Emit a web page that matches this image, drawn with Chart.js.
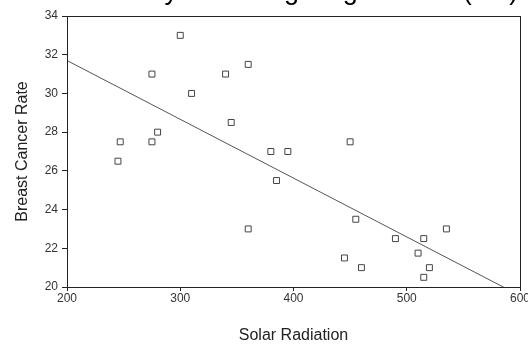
<!DOCTYPE html>
<html>
<head>
<meta charset="utf-8">
<script src="https://cdn.jsdelivr.net/npm/chart.js@4/dist/chart.umd.min.js"></script>
<style>
  html, body { margin: 0; padding: 0; background: #fff; }
  #wrap { width: 528px; height: 344px; }
</style>
</head>
<body>
<div id="wrap"><canvas id="c" width="528" height="344"></canvas></div>
<script>
// solar radiation vs breast cancer rate, one point per region
var radiation = [300, 275, 340, 360, 310, 345, 280, 275, 247, 245, 380, 395, 385, 450,
                 360, 455, 490, 515, 535, 510, 445, 460, 520, 515];
var cancerRate = [33, 31, 31, 31.5, 30, 28.5, 28, 27.5, 27.5, 26.5, 27, 27, 25.5, 27.5,
                  23, 23.5, 22.5, 22.5, 23, 21.75, 21.5, 21, 21, 20.5];

// fitted line end points
var fitX = [200, 600];
var fitY = [31.7, 19.55];

var xTicks = [200, 300, 400, 500, 600];
var yTicks = [20, 22, 24, 26, 28, 30, 32, 34];

var points = [];
for (var i = 0; i < radiation.length; i++) {
  points.push({ x: radiation[i], y: cancerRate[i] });
}
var fitLine = [];
for (var j = 0; j < fitX.length; j++) {
  fitLine.push({ x: fitX[j], y: fitY[j] });
}

var FONT = "'Liberation Sans', Arial, sans-serif";

// frame round the plot and the (partly hidden) heading
var framePlugin = {
  id: 'frame',
  afterDraw: function(chart) {
    var ctx = chart.ctx, a = chart.chartArea;
    ctx.save();
    ctx.strokeStyle = '#222';
    ctx.lineWidth = 1;
    ctx.strokeRect(Math.round(a.left) + 0.5, Math.round(a.top) + 0.5,
                   Math.round(a.right - a.left), Math.round(a.bottom - a.top));
    ctx.fillStyle = '#000';
    ctx.font = '27px ' + FONT;
    ctx.textBaseline = 'alphabetic';
    ctx.textAlign = 'left';
    ctx.fillText('Mortality and Weighting Factors (US)', 76, -1);
    ctx.restore();
  }
};

var ctx = document.getElementById('c').getContext('2d');
var myChart = new Chart(ctx, {
  type: 'scatter',
  data: {
    datasets: [{
      label: 'fit',
      type: 'line',
      data: fitLine,
      borderColor: '#555',
      borderWidth: 1,
      pointRadius: 0,
      fill: false,
      order: 2
    }, {
      label: 'rate',
      data: points,
      pointStyle: 'rect',
      pointRadius: 4.2,
      pointBackgroundColor: '#fff',
      pointBorderColor: '#444',
      pointBorderWidth: 1,
      order: 1
    }]
  },
  options: {
    responsive: false,
    animation: false,
    devicePixelRatio: 1,
    layout: { padding: { top: 16, right: 8, left: 0, bottom: 0 } },
    plugins: {
      legend: { display: false },
      tooltip: { enabled: false },
      title: { display: false }
    },
    scales: {
      x: {
        type: 'linear',
        min: 200,
        max: 600,
        afterBuildTicks: function(s) { s.ticks = xTicks.map(function(v) { return { value: v }; }); },
        afterFit: function(s) { s.height = 57; s.paddingLeft = 0; s.paddingRight = 0; },
        grid: { drawOnChartArea: false, drawTicks: true, tickLength: 4, color: '#222' },
        border: { display: true, color: '#222' },
        ticks: { color: '#333', font: { family: FONT, size: 12 }, padding: 0, maxRotation: 0 },
        title: { display: true, text: 'Solar Radiation', color: '#222',
                 font: { family: FONT, size: 16 }, padding: { top: 0, bottom: -1 } }
      },
      y: {
        type: 'linear',
        min: 20,
        max: 34,
        afterBuildTicks: function(s) { s.ticks = yTicks.map(function(v) { return { value: v }; }); },
        afterFit: function(s) { s.width = 67; s.paddingTop = 0; s.paddingBottom = 0; },
        grid: { drawOnChartArea: false, drawTicks: true, tickLength: 5, color: '#222' },
        border: { display: true, color: '#222' },
        ticks: { color: '#333', font: { family: FONT, size: 12 }, padding: 4 },
        title: { display: true, text: 'Breast Cancer Rate', color: '#222',
                 font: { family: FONT, size: 16 }, padding: { top: 13, bottom: 0 } }
      }
    }
  },
  plugins: [framePlugin]
});
</script>
</body>
</html>
